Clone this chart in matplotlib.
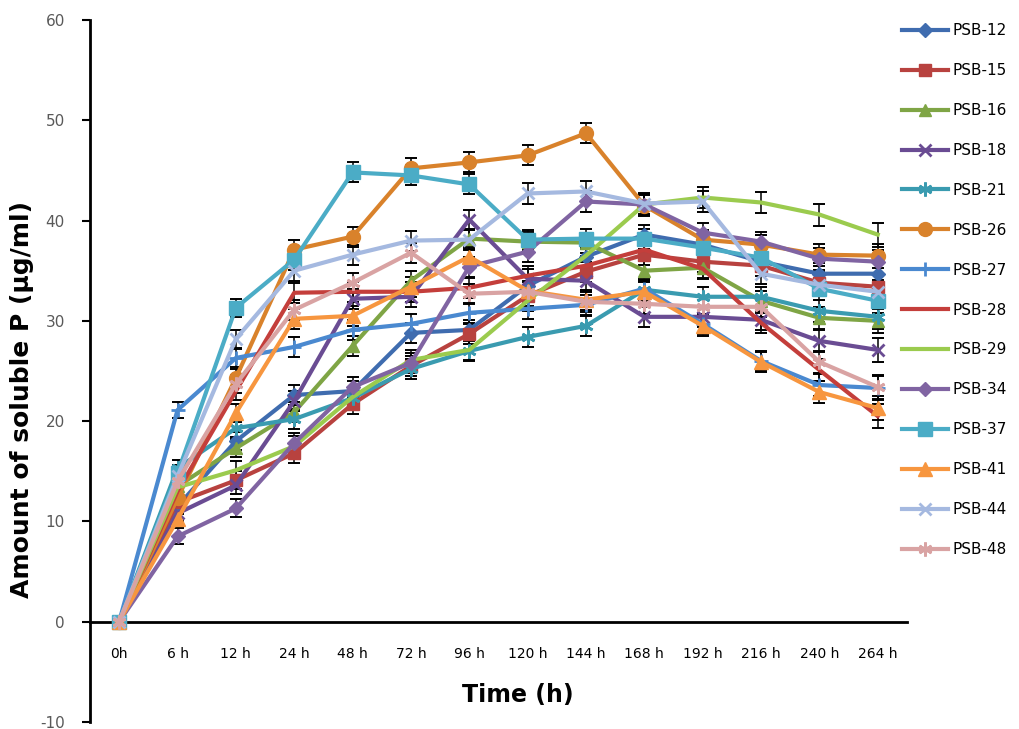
import matplotlib
matplotlib.use("Agg")
import matplotlib.pyplot as plt
from matplotlib.lines import Line2D
import numpy as np

plt.rcParams["axes.unicode_minus"] = False

# time points (categories)
times = ["0h", "6 h", "12 h", "24 h", "48 h", "72 h", "96 h", "120 h",
         "144 h", "168 h", "192 h", "216 h", "240 h", "264 h"]

# soluble P (ug/ml) per strain
psb12 = [0, 11.5, 18.0, 22.6, 23.0, 28.8, 29.1, 33.5, 36.4, 38.6, 37.6, 35.9, 34.7, 34.7]
psb15 = [0, 11.9, 14.1, 16.8, 21.7, 25.5, 28.7, 32.5, 34.9, 36.6, 35.9, 35.5, 33.8, 33.4]
psb16 = [0, 13.5, 17.3, 20.9, 27.5, 34.0, 38.2, 37.9, 37.8, 35.0, 35.3, 32.0, 30.3, 30.0]
psb18 = [0, 10.8, 13.6, 22.0, 32.2, 32.4, 40.1, 34.2, 34.0, 30.4, 30.4, 30.1, 28.0, 27.1]
psb21 = [0, 15.3, 19.3, 20.2, 22.3, 25.2, 27.0, 28.4, 29.5, 33.1, 32.4, 32.4, 31.0, 30.4]
psb26 = [0, 12.3, 24.3, 37.1, 38.4, 45.2, 45.8, 46.5, 48.7, 41.5, 38.1, 37.6, 36.6, 36.5]
psb27 = [0, 21.1, 26.3, 27.4, 29.1, 29.7, 30.8, 31.2, 31.6, 33.2, 29.7, 26.0, 23.6, 23.3]
psb28 = [0, 13.0, 23.0, 32.8, 32.9, 32.9, 33.3, 34.5, 35.5, 37.1, 35.2, 29.8, 25.1, 20.5]
psb29 = [0, 13.4, 15.1, 17.5, 22.4, 26.1, 27.1, 32.0, 36.5, 41.6, 42.3, 41.8, 40.6, 38.6]
psb34 = [0, 8.5, 11.3, 17.8, 23.4, 25.8, 35.4, 36.9, 41.9, 41.6, 38.8, 37.9, 36.2, 35.9]
psb37 = [0, 14.8, 31.3, 36.1, 44.8, 44.5, 43.6, 38.1, 38.2, 38.2, 37.3, 36.3, 33.2, 32.0]
psb41 = [0, 10.2, 20.8, 30.2, 30.5, 33.4, 36.4, 33.0, 32.1, 32.9, 29.5, 25.9, 22.9, 21.3]
psb44 = [0, 14.5, 28.2, 35.0, 36.6, 38.0, 38.1, 42.7, 42.9, 41.7, 41.9, 34.7, 33.6, 32.9]
psb48 = [0, 14.0, 23.7, 31.1, 33.8, 36.8, 32.7, 32.9, 31.9, 31.7, 31.4, 31.4, 25.9, 23.4]

# typical error (SD) per time point
err = [0.5, 0.8, 0.9, 1.0, 1.0, 1.0, 1.0, 1.0, 1.0, 1.0, 1.0, 1.0, 1.1, 1.2]

asterisk = (6, 2, 0)

# label, values, colour, marker, marker size
series = [
    ("PSB-12", psb12, "#3F6CAF", "D", 7),
    ("PSB-15", psb15, "#B8423F", "s", 8),
    ("PSB-16", psb16, "#7FA545", "^", 9),
    ("PSB-18", psb18, "#6A4C93", "x", 9),
    ("PSB-21", psb21, "#3A9BB0", asterisk, 10),
    ("PSB-26", psb26, "#D9822B", "o", 10),
    ("PSB-27", psb27, "#4A89D0", "+", 10),
    ("PSB-28", psb28, "#C43E3B", None, 0),
    ("PSB-29", psb29, "#9BCB4E", None, 0),
    ("PSB-34", psb34, "#8064A2", "D", 7),
    ("PSB-37", psb37, "#4BACC6", "s", 10),
    ("PSB-41", psb41, "#F7963F", "^", 10),
    ("PSB-44", psb44, "#A5B9E0", "x", 9),
    ("PSB-48", psb48, "#D9A3A3", asterisk, 10),
]

fig = plt.figure(figsize=(10.19, 7.29), dpi=100)
ax = fig.add_axes([0.0883, 0.0096, 0.8017, 0.963])

x = np.arange(len(times))
handles = []
for label, vals, color, marker, ms in series:
    mew = 2 if marker in ("x", "+", asterisk) else 1
    ax.errorbar(x, vals, yerr=err, fmt="none", ecolor="black",
                elinewidth=1.1, capsize=4, capthick=1.4, zorder=2)
    ax.plot(x, vals, color=color, lw=3, marker=marker, ms=ms, mew=mew, zorder=3)
    handles.append(Line2D([], [], color=color, lw=3, marker=marker, ms=ms, mew=mew))

ax.set_xlim(-0.5, len(times) - 0.5)
ax.set_ylim(-10, 60)
ax.set_yticks(range(-10, 61, 10))
ax.set_xticks(x)
ax.set_xticklabels(times, family=["Liberation Sans Narrow", "DejaVu Sans"],
                   fontsize=13, color="#333333")

for s in ("top", "right"):
    ax.spines[s].set_visible(False)
ax.spines["bottom"].set_position(("data", 0))
ax.spines["bottom"].set_linewidth(2)
ax.spines["left"].set_linewidth(2)
ax.tick_params(axis="x", length=0, pad=18)
ax.tick_params(axis="y", direction="out", length=6, width=1.5,
               labelsize=11, labelcolor="#595959", pad=12)

ax.set_xlabel("Time (h)", fontsize=17, fontweight="bold", va="center",
              family=["Liberation Sans Narrow", "DejaVu Sans"])
ax.xaxis.set_label_coords(0.524, 0.038)
ax.set_ylabel("Amount of soluble P (µg/ml)", fontsize=18, fontweight="bold",
              va="center", family=["Liberation Sans Narrow", "DejaVu Sans"])
ax.yaxis.set_label_coords(-0.083, 0.459)

fig.legend(handles, [s[0] for s in series], loc="upper left",
           bbox_to_anchor=(0.872, 0.987), frameon=False, fontsize=11,
           labelspacing=1.63, handlelength=3.0, handletextpad=0.3)

fig.savefig("out.png", dpi=100)
